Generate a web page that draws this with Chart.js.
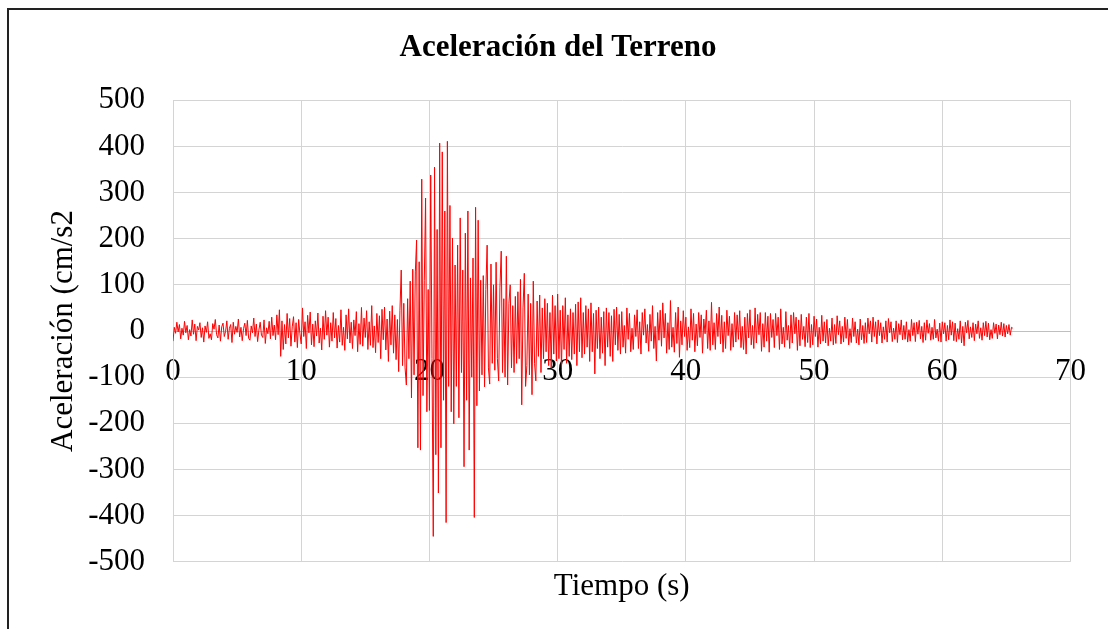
<!DOCTYPE html>
<html lang="es">
<head>
<meta charset="utf-8">
<title>Aceleración del Terreno</title>
<script src="https://cdn.jsdelivr.net/npm/chart.js@4/dist/chart.umd.min.js"></script>
<style>
    html, body { margin: 0; padding: 0; background: #fff; overflow: hidden; }
    #wrap { position: relative; width: 1108px; height: 629px; }
    #marco {
        position: absolute; left: 7px; top: 8px; right: -10px; bottom: -10px;
        border: 2px solid #222; pointer-events: none;
    }
</style>
</head>
<body>
<div id="wrap">
    <canvas id="grafico" width="1108" height="629"></canvas>
    <div id="marco"></div>
</div>
<script>
// Paso de muestreo (s)
const paso = 0.1;

// Aceleración (cm/s2), una fila por segundo
// 0 - 17 s
const faseInicial = [
    -22, 8, -5, 19, -2, 14, -17, 6, -9, 21,
    -4, 12, -19, 3, -11, 24, -7, 15, -21, 10,
    2, 18, -14, 7, -24, 11, -3, 20, -16, -6,
    -19, 16, 4, 25, -8, -15, 13, -22, 9, 17,
    -12, -1, 22, -18, 6, 14, -25, 19, -7, 10,
    -3, 26, -13, 8, -21, 5, 17, -10, 23, -16,
    -20, 11, -4, 28, -12, 15, -23, 2, 19, -9,
    -14, 24, -27, 7, -6, 21, -17, 30, -10, 13,
    -19, 35, -8, 46, -55, 22, -40, 14, -28, 38,
    -15, 27, -33, 9, 31, -24, 18, -36, 25, -6,
    -28, 50, -12, 20, -38, 34, -4, 41, -30, 15,
    -34, 22, -11, 39, -26, 6, -41, 32, -18, 44,
    -9, 30, -35, 18, -22, 40, -15, 27, -37, 12,
    -24, 46, -31, 8, -42, 35, -17, 48, -26, 19,
    -38, 24, -10, 42, -45, 16, -29, 51, -33, 28,
    -14, 44, -40, 20, -31, 55, -36, 11, -47, 38,
    -25, 33, -60, 47, -19, 52, -41, 26, -66, 43
];

// 17 - 35 s (fase intensa)
const faseFuerte = [
    -30, 55, -48, 35, -62, 25, -88, 45, 132, -75,
    60, -80, -117, 70, -60, 108, -145, 134, -95, 128,
    197, -253, 150, -258, 329, -140, 110, 288, -175, 90,
    -172, 338, -60, -445, 355, -268, 220, -351, 407, -253,
    388, -150, 260, -415, 411, -120, 272, -175, 201, -201,
    143, -120, 186, -188, 245, -90, 132, -294, 212, -150,
    260, -258, 115, -100, 158, -404, 268, -162, 240, -130,
    110, -95, 120, -121, 90, 186, -80, -115, 145, -70,
    100, -85, 149, -60, -108, 95, 173, -90, 70, -100,
    162, -117, 60, 100, -80, 55, -90, 75, -70, 85,
    -60, 112, -160, 50, 125, -120, -75, 80, -95, 60,
    -138, 108, -70, -108, 65, -55, 78, -90, 50, -60,
    70, -45, 60, -75, 40, -80, 78, -50, 55, -65,
    80, -60, 45, -80, 55, -40, 72, -70, 35, -55,
    48, -62, 40, -50, 58, -75, 63, -45, 72, -58,
    40, -50, 55, -35, 48, -66, 61, -45, 38, -93,
    45, -38, 52, -60, 30, -48, 42, -75, 50, -35,
    40, -55, 33, -66, 47, -30, 52, -42, 36, -50
];

// 35 - 65.5 s (coda)
const faseFinal = [
    42, -35, 12, -48, 50, -18, 38, -45, 6, -40,
    35, -12, 46, -38, 20, -50, 40, -9, 48, -26,
    14, -44, 36, -22, 55, -38, 10, -65, 40, -20,
    45, -33, 61, -15, 38, -48, 18, -40, 66, -35,
    8, -46, 40, -27, 52, -57, 22, -30, 44, -12,
    30, -42, 9, -36, 48, -20, 38, -45, 15, -32,
    40, -14, 35, -48, 26, -6, 45, -38, 22, -42,
    62, -30, 18, -40, 38, -12, 52, -28, 34, -46,
    20, -38, 45, -10, 32, -42, 16, -35, 40, -24,
    35, -18, 44, -36, 10, -40, 30, -50, 38, -15,
    46, -30, 12, -38, 50, -26, 36, -8, 40, -44,
    16, -35, 40, -22, 32, -46, 38, -14, 25, -36,
    38, -10, 30, -40, 48, -28, 8, -35, 42, -20,
    12, -38, 35, -26, 40, -6, 30, -42, 24, -32,
    36, -18, 10, -34, 30, -25, 38, -36, 14, -30,
    32, -12, 26, -35, 8, -28, 34, -22, 20, -26,
    25, -32, 6, -22, 28, -30, 14, -27, 33, -8,
    22, -28, 10, -24, 30, -16, 25, -30, 5, -25,
    28, -12, 20, -26, 4, -30, 26, -19, 12, -27,
    18, -25, 28, -6, 22, -24, 30, -12, 20, -28,
    24, -10, 18, -26, 9, -18, 22, -24, 27, -4,
    20, -23, 6, -18, 22, -25, 16, -8, 24, -19,
    12, -18, 20, -24, 3, -22, 25, -10, 18, -23,
    19, -7, 23, -17, 10, -25, 18, -20, 24, -5,
    16, -20, 8, -18, 25, -15, 4, -22, 17, -24,
    20, -6, 18, -22, 12, -19, 24, -9, 20, -21,
    17, -23, 5, -18, 22, -26, 10, -32, 19, -4,
    23, -17, 9, -14, 18, -21, 15, -6, 22, -16,
    7, -20, 18, -10, 21, -13, 17, -19, 3, -16,
    18, -5, 15, -17, 13, -8, 19, -11, 16, -13,
    12, -6, 14, -9, 8, 6
];

// Ejes
const ejeX = { min: 0, max: 70, paso: 10 };
const ejeY = { min: -500, max: 500, paso: 100 };

const aceleracion = [...faseInicial, ...faseFuerte, ...faseFinal];
const puntos = aceleracion.map((a, i) => ({ x: Number((i * paso).toFixed(2)), y: a }));

Chart.defaults.font.family = '"Liberation Serif", "Times New Roman", serif';
Chart.defaults.color = '#000';

const ctx = document.getElementById('grafico');

new Chart(ctx, {
    type: 'line',
    data: {
        datasets: [{
            label: 'Aceleración',
            data: puntos,
            borderColor: '#ff0000',
            borderWidth: 1,
            pointRadius: 0,
            tension: 0,
            fill: false
        }]
    },
    options: {
        responsive: false,
        animation: false,
        layout: { padding: { left: 45, right: 37, top: 0, bottom: 0 } },
        plugins: {
            legend: { display: false },
            tooltip: { enabled: false },
            title: {
                display: true,
                text: 'Aceleración del Terreno',
                font: { size: 31, weight: 'bold' },
                padding: { top: 29, bottom: 34 }
            },
            subtitle: {
                display: true,
                text: 'Tiempo (s)',
                position: 'bottom',
                fullSize: false,
                font: { size: 31 },
                padding: { top: 6, bottom: 24 }
            }
        },
        scales: {
            x: {
                type: 'linear',
                position: { y: 0 },
                min: ejeX.min,
                max: ejeX.max,
                ticks: { stepSize: ejeX.paso, font: { size: 31 }, padding: 22, maxRotation: 0 },
                grid: { color: '#d4d4d4', lineWidth: 1, drawTicks: false },
                border: { color: '#bfbfbf', width: 1 }
            },
            y: {
                type: 'linear',
                min: ejeY.min,
                max: ejeY.max,
                afterFit: s => { s.width = 128; },
                ticks: { stepSize: ejeY.paso, font: { size: 31 }, padding: 28 },
                grid: { color: '#d4d4d4', lineWidth: 1, drawTicks: false },
                border: { color: '#d4d4d4', width: 1 },
                title: {
                    display: true,
                    text: 'Aceleración (cm/s2',
                    font: { size: 31 },
                    padding: { top: 0, bottom: 0 }
                }
            }
        }
    }
});
</script>
</body>
</html>
